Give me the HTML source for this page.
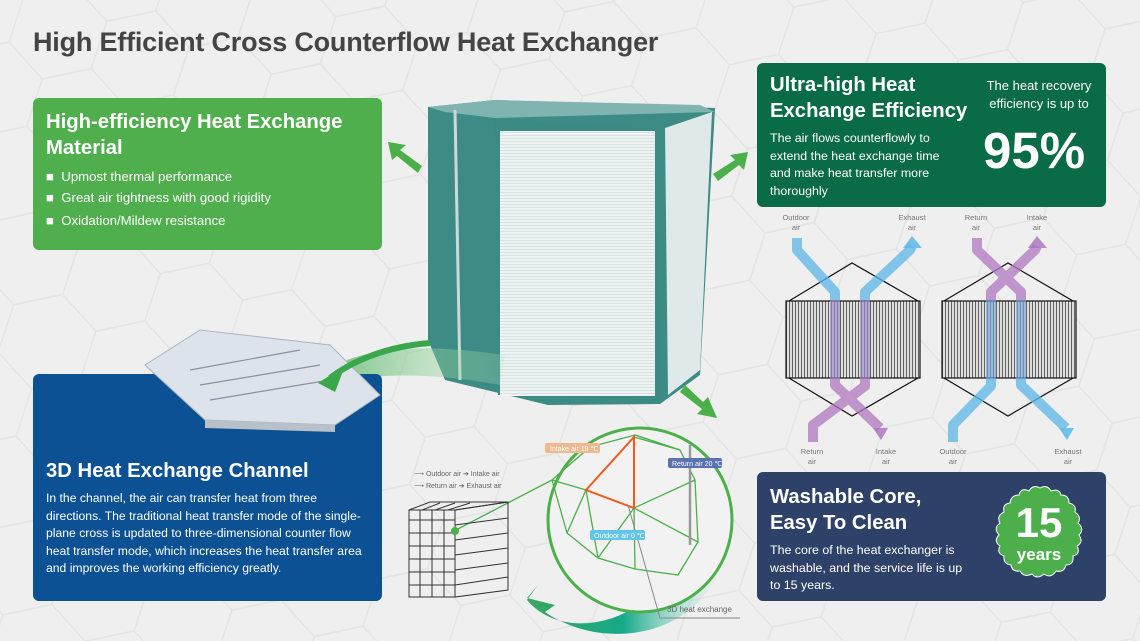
<!DOCTYPE html>
<html><head><meta charset="utf-8"><style>
html,body{margin:0;padding:0;}
body{width:1140px;height:641px;overflow:hidden;background:#efefef;font-family:"Liberation Sans",sans-serif;position:relative;}
.box{position:absolute;border-radius:6px;color:#fff;}
h1{position:absolute;left:33px;top:27px;margin:0;font-size:27px;color:#444;font-weight:bold;letter-spacing:-0.2px;}
.t{font-weight:bold;font-size:20.3px;line-height:26px;}
.p{font-size:12.4px;line-height:17.5px;}
svg{position:absolute;left:0;top:0;}
</style></head><body>
<svg width="1140" height="641" viewBox="0 0 1140 641">
<defs>
<pattern id="hex" width="150" height="86" patternUnits="userSpaceOnUse" patternTransform="rotate(-12)">
<path d="M0 43 L25 0 L75 0 L100 43 L75 86 L25 86 Z M100 43 L150 43" fill="none" stroke="#e3e3e3" stroke-width="1.5"/>
</pattern>
<linearGradient id="swoop" x1="0" y1="0" x2="1" y2="0"><stop offset="0" stop-color="#3aa84a"/><stop offset="1" stop-color="#b8e6c0" stop-opacity="0.3"/></linearGradient>
<linearGradient id="swoop2" x1="0" y1="0" x2="1" y2="0"><stop offset="0" stop-color="#3aa860"/><stop offset="0.5" stop-color="#17a98a"/><stop offset="1" stop-color="#d8f0ec" stop-opacity="0.2"/></linearGradient>
<pattern id="pleat" width="4" height="3" patternUnits="userSpaceOnUse"><rect width="4" height="3" fill="#eef3f3"/><rect width="4" height="1" fill="#d6e1e1"/></pattern>
<pattern id="vl" width="3" height="10" patternUnits="userSpaceOnUse"><rect width="3" height="10" fill="#ddd"/><rect width="1" height="10" fill="#666"/></pattern>
</defs>
<rect width="1140" height="641" fill="#efefef"/>
<rect width="1140" height="641" fill="url(#hex)"/>
<polygon points="428,107 495,100 715,108 700,375 660,404 548,405 445,380 428,340" fill="#3c8b84"/>
<polygon points="428,107 495,100 700,105 715,112 495,118 445,112" fill="#7fb4b0"/>
<polygon points="495,120 655,128 660,400 498,395" fill="#3b8a84"/>
<rect x="500" y="131" width="155" height="265" fill="url(#pleat)"/>
<polygon points="665,128 712,112 700,370 668,395" fill="#dfe9e9"/>
<line x1="455" y1="110" x2="460" y2="380" stroke="#cfd8d8" stroke-width="3"/>
<path d="M300 390 C340 350 400 340 505 355 L500 385 C420 370 360 375 330 385 Z" fill="url(#swoop)" opacity="0.8"/>
<polygon points="422,166 400,150 406,145 388,142 392,160 397,156 418,173" fill="#4cb04a"/>
<polygon points="713,174 735,160 730,155 748,152 744,170 739,165 718,181" fill="#4cb04a"/>
<polygon points="685,385 703,402 708,397 717,418 697,414 702,409 680,392" fill="#4cb04a"/>
<path d="M527 600 C560 640 640 630 680 560 L720 570 C690 640 600 650 545 612 L555 605 L527 598 L538 585 Z" fill="url(#swoop2)"/>
<circle cx="640" cy="520" r="92" fill="#f2f2f2" stroke="#4cb04a" stroke-width="3"/>
<g stroke="#4cb04a" stroke-width="1.3" fill="none">
<path d="M590 447 L635 435 L680 450 L695 480 L698 542 L678 575 L635 569 L598 558 L567 533 L552 480 Z"/>
<path d="M586 490 L634 437 L634 508 Z M634 508 L695 480 M634 508 L698 542 M634 508 L635 569 M586 490 L567 533 M586 490 L552 480 M586 490 L598 558 M598 558 L634 508 M635 435 L680 450 L634 437"/>
<path d="M454 531 L552 480"/>
</g>
<path d="M586 490 L634 437 L634 508 Z" fill="none" stroke="#f05a1a" stroke-width="2"/>
<line x1="690" y1="445" x2="690" y2="545" stroke="#999" stroke-width="2.5"/>
<path d="M628 505 L660 618 L740 618" stroke="#888" fill="none"/>
<text x="667" y="612" font-size="8" fill="#666">3D heat exchange</text>
<rect x="545" y="443" width="55" height="10" rx="2" fill="#f0b88e"/><text x="550" y="451" font-size="7" fill="#fff">Intake air 19 ℃</text>
<rect x="668" y="458" width="54" height="10" rx="2" fill="#5a72b0"/><text x="672" y="466" font-size="7" fill="#fff">Return air 20 ℃</text>
<rect x="590" y="530" width="55" height="10" rx="2" fill="#61c4ee"/><text x="594" y="538" font-size="7" fill="#fff">Outdoor air 0 ℃</text>
<text x="414" y="476" font-size="7" fill="#666">⟶ Outdoor air ➔ Intake air</text>
<text x="414" y="488" font-size="7" fill="#666">⟶ Return air ➔ Exhaust air</text>
<g stroke="#333" stroke-width="1" fill="none">
<polygon points="409,510 455,510 455,597 409,597"/><polygon points="409,510 430,502 508,502 455,510"/><polygon points="455,510 508,502 508,590 455,597"/>
<path d="M455 525 L508 518 M455 540 L508 533 M455 555 L508 548 M455 570 L508 563 M455 585 L508 577 M422 510 L440 503 M435 510 L455 503 M448 510 L470 503"/>
<path d="M409 520 L455 520 M409 533 L455 533 M409 546 L455 546 M409 559 L455 559 M409 572 L455 572 M409 585 L455 585 M420 510 L420 597 M432 510 L432 597 M444 510 L444 597"/>
</g>
<circle cx="455" cy="531" r="4" fill="#4cb04a"/>
<g stroke="#111" stroke-width="1.2">
<polygon points="789,301 852,263 918,301 918,378 852,416 789,378" fill="none"/>
<rect x="786" y="301" width="134" height="77" fill="url(#vl)"/>
<polygon points="944,301 1008,263 1073,301 1073,378 1008,416 944,378" fill="none"/>
<rect x="942" y="301" width="134" height="77" fill="url(#vl)"/>
</g>
<g fill="none" stroke-width="10" opacity="0.75" stroke-linejoin="round">
<path d="M797 238 L797 250 L835 292 L835 300" stroke="#5bb8e8"/>
<path d="M865 300 L865 292 L910 250 L912 246" stroke="#5bb8e8"/>
<path d="M835 300 L835 378" stroke="#5bb8e8" opacity="0.6"/>
<path d="M835 300 L835 378" stroke="#b077c0" opacity="0.6"/>
<path d="M865 300 L865 378" stroke="#5bb8e8" opacity="0.6"/>
<path d="M865 300 L865 378" stroke="#b077c0" opacity="0.6"/>
<path d="M835 378 L835 385 L880 428" stroke="#b077c0"/>
<path d="M865 378 L865 386 L813 425 L813 442" stroke="#b077c0"/>
<path d="M977 238 L977 250 L1021 292 L1021 300" stroke="#b077c0"/>
<path d="M991 300 L991 292 L1035 250 L1037 246" stroke="#b077c0"/>
<path d="M1021 300 L1021 378" stroke="#b077c0" opacity="0.6"/>
<path d="M1021 300 L1021 378" stroke="#5bb8e8" opacity="0.6"/>
<path d="M991 300 L991 378" stroke="#b077c0" opacity="0.6"/>
<path d="M991 300 L991 378" stroke="#5bb8e8" opacity="0.6"/>
<path d="M1021 378 L1021 385 L1066 428" stroke="#5bb8e8"/>
<path d="M991 378 L991 386 L953 425 L953 442" stroke="#5bb8e8"/>
</g>
<polygon points="903,248 912,236 922,248" fill="#5bb8e8" opacity="0.85"/>
<polygon points="1028,248 1037,236 1047,248" fill="#b077c0" opacity="0.85"/>
<polygon points="873,428 888,428 881,440" fill="#b077c0" opacity="0.85"/>
<polygon points="1059,428 1074,428 1067,440" fill="#5bb8e8" opacity="0.85"/>
<g font-size="7.5" fill="#777" text-anchor="middle">
<text x="796" y="220">Outdoor</text><text x="796" y="230">air</text>
<text x="912" y="220">Exhaust</text><text x="912" y="230">air</text>
<text x="976" y="220">Return</text><text x="976" y="230">air</text>
<text x="1037" y="220">Intake</text><text x="1037" y="230">air</text>
<text x="812" y="454">Return</text><text x="812" y="464">air</text>
<text x="886" y="454">Intake</text><text x="886" y="464">air</text>
<text x="953" y="454">Outdoor</text><text x="953" y="464">air</text>
<text x="1068" y="454">Exhaust</text><text x="1068" y="464">air</text>
</g>
</svg>
<h1>High Efficient Cross Counterflow Heat Exchanger</h1>
<div class="box" style="left:33px;top:98px;width:349px;height:152px;background:#4faf4d;">
<div class="t" style="position:absolute;left:13px;top:11px;">High-efficiency Heat Exchange<br>Material</div>
<div style="position:absolute;left:13px;top:68px;font-size:13.2px;line-height:21px;">
<div>■&nbsp; Upmost thermal performance</div><div>■&nbsp; Great air tightness with good rigidity</div><div style="margin-top:2px">■&nbsp; Oxidation/Mildew resistance</div></div>
</div>
<div class="box" style="left:33px;top:374px;width:349px;height:227px;background:#0c5193;">
<div class="t" style="position:absolute;left:13px;top:84px;">3D Heat Exchange Channel</div>
<div class="p" style="position:absolute;left:13px;top:116px;width:325px;font-size:12.2px;">In the channel, the air can transfer heat from three directions. The traditional heat transfer mode of the single-plane cross is updated to three-dimensional counter flow heat transfer mode, which increases the heat transfer area and improves the working efficiency greatly.</div>
</div>
<div class="box" style="left:757px;top:63px;width:349px;height:144px;background:#0a6b47;">
<div class="t" style="position:absolute;left:13px;top:9px;">Ultra-high Heat<br>Exchange Efficiency</div>
<div class="p" style="position:absolute;left:13px;top:67px;width:188px;">The air flows counterflowly to extend the heat exchange time and make heat transfer more thoroughly</div>
<div class="p" style="position:absolute;left:222px;top:14px;width:120px;text-align:center;font-size:13px;">The heat recovery efficiency is up to</div>
<div style="position:absolute;left:226px;top:58px;font-size:51px;font-weight:bold;line-height:60px;">95%</div>
</div>
<div class="box" style="left:757px;top:472px;width:349px;height:129px;background:#2e4168;">
<div class="t" style="position:absolute;left:13px;top:12px;">Washable Core,<br>Easy To Clean</div>
<div class="p" style="position:absolute;left:13px;top:70px;width:204px;">The core of the heat exchanger is washable, and the service life is up to 15 years.</div>
<svg width="110" height="110" style="left:228px;top:10px;" viewBox="0 0 110 110">
<path d="M55 6 Q62 2 66 9 Q74 6 76 13 Q84 13 84 21 Q92 23 90 30 Q97 35 93 41 Q100 47 94 53 Q99 60 92 64 Q96 72 88 74 Q89 83 81 83 Q79 91 71 89 Q66 97 59 92 Q52 98 47 92 Q39 96 35 89 Q27 90 26 83 Q18 82 19 74 Q11 71 15 64 Q8 59 14 53 Q8 46 15 41 Q11 34 19 30 Q17 22 25 21 Q26 13 34 13 Q36 5 44 9 Q48 2 55 6 Z" fill="#4caf4c" stroke="#fff" stroke-width="1"/>
<text x="54" y="55" font-size="42" font-weight="bold" fill="#fff" text-anchor="middle">15</text>
<text x="54" y="78" font-size="17" font-weight="bold" fill="#fff" text-anchor="middle">years</text>
</svg>
</div>
<svg width="1140" height="641" viewBox="0 0 1140 641" style="pointer-events:none">
<polygon points="145,365 200,330 330,345 380,395 335,425 205,420" fill="#dde3ea" stroke="#aab3bd"/>
<polygon points="205,420 335,425 335,432 205,428" fill="#b8c0c8"/>
<g stroke="#8890a0" stroke-width="1.2">
<line x1="190" y1="370" x2="300" y2="350"/><line x1="200" y1="385" x2="320" y2="365"/><line x1="210" y1="400" x2="330" y2="380"/>
</g>
<polygon points="318,383 345,366 335,392" fill="#3aa84a"/>
<path d="M330 378 C360 355 400 345 430 343" stroke="#3aa84a" stroke-width="6" fill="none"/>
</svg>
</body></html>
